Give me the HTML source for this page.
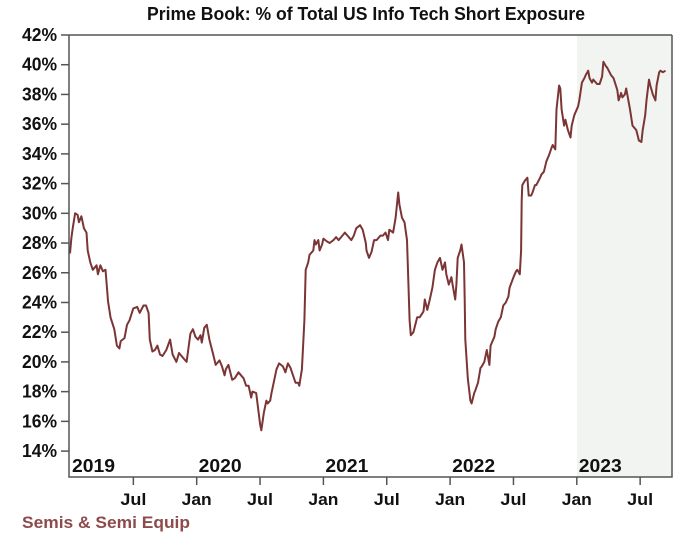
<!DOCTYPE html>
<html><head><meta charset="utf-8"><style>
html,body{margin:0;padding:0;background:#fff;}
svg{display:block;font-family:"Liberation Sans Narrow","Liberation Sans",sans-serif;font-weight:bold;}
</style></head><body>
<svg id="chart" width="680" height="541" viewBox="0 0 680 541" xmlns="http://www.w3.org/2000/svg">
<rect x="0" y="0" width="680" height="541" fill="#fff"/>
<rect x="577" y="35" width="95" height="442" fill="#f2f4f1"/>
<text x="366" y="20" text-anchor="middle" font-size="18" textLength="438" lengthAdjust="spacingAndGlyphs" fill="#111">Prime Book: % of Total US Info Tech Short Exposure</text>
<g id="yaxis"></g>
<g id="xaxis"></g>
<polyline id="series" fill="none" stroke="#7b3535" stroke-width="2" stroke-linejoin="round"/>
<path d="M69,35 H672 M69,35 V477 H672 V35" fill="none" stroke="#555" stroke-width="1.5"/>
<text x="22" y="528" font-size="17" textLength="168" lengthAdjust="spacingAndGlyphs" fill="#8d4b4b">Semis &amp; Semi Equip</text>
</svg>
<script>
const yTicks = [14,16,18,20,22,24,26,28,30,32,34,36,38,40,42];
const yearLabels = ["2019","2020","2021","2022","2023"];
const yearPositions = [2019,2020,2021,2022,2023];
const monthTicks = [2019.5,2020,2020.5,2021,2021.5,2022,2022.5,2023,2023.5];
const monthLabels = ["Jul","Jan","Jul","Jan","Jul","Jan","Jul","Jan","Jul"];
const dates = [2019.00,2019.01,2019.02,2019.04,2019.06,2019.07,2019.09,2019.11,2019.13,2019.14,2019.16,2019.18,2019.21,2019.22,2019.24,2019.26,2019.28,2019.29,2019.30,2019.32,2019.35,2019.37,2019.39,2019.40,2019.43,2019.45,2019.47,2019.50,2019.53,2019.55,2019.58,2019.60,2019.62,2019.63,2019.65,2019.67,2019.69,2019.71,2019.73,2019.76,2019.79,2019.81,2019.84,2019.86,2019.89,2019.92,2019.95,2019.97,2019.99,2020.01,2020.03,2020.04,2020.06,2020.08,2020.10,2020.13,2020.15,2020.18,2020.20,2020.22,2020.23,2020.25,2020.28,2020.30,2020.33,2020.35,2020.37,2020.39,2020.41,2020.43,2020.44,2020.47,2020.48,2020.50,2020.51,2020.53,2020.55,2020.56,2020.58,2020.59,2020.63,2020.65,2020.68,2020.70,2020.72,2020.74,2020.76,2020.78,2020.80,2020.81,2020.83,2020.85,2020.86,2020.88,2020.89,2020.92,2020.93,2020.94,2020.96,2020.97,2020.99,2021.00,2021.03,2021.05,2021.08,2021.10,2021.12,2021.15,2021.17,2021.19,2021.22,2021.24,2021.26,2021.29,2021.31,2021.335,2021.34,2021.36,2021.38,2021.40,2021.42,2021.45,2021.47,2021.49,2021.51,2021.52,2021.55,2021.57,2021.59,2021.60,2021.62,2021.64,2021.66,2021.67,2021.68,2021.69,2021.71,2021.74,2021.76,2021.79,2021.80,2021.82,2021.84,2021.86,2021.88,2021.90,2021.92,2021.94,2021.96,2021.97,2021.99,2022.01,2022.02,2022.04,2022.05,2022.06,2022.08,2022.09,2022.11,2022.115,2022.12,2022.14,2022.16,2022.17,2022.19,2022.20,2022.22,2022.24,2022.25,2022.27,2022.29,2022.31,2022.32,2022.35,2022.36,2022.38,2022.40,2022.42,2022.44,2022.46,2022.47,2022.50,2022.52,2022.53,2022.55,2022.56,2022.565,2022.57,2022.59,2022.61,2022.62,2022.64,2022.65,2022.67,2022.68,2022.71,2022.72,2022.74,2022.76,2022.78,2022.80,2022.81,2022.83,2022.84,2022.86,2022.87,2022.88,2022.90,2022.91,2022.93,2022.95,2022.96,2022.98,2023.01,2023.02,2023.04,2023.06,2023.07,2023.09,2023.10,2023.12,2023.13,2023.16,2023.18,2023.20,2023.21,2023.23,2023.24,2023.27,2023.29,2023.32,2023.33,2023.35,2023.36,2023.38,2023.39,2023.42,2023.44,2023.47,2023.49,2023.51,2023.52,2023.54,2023.55,2023.57,2023.58,2023.60,2023.62,2023.63,2023.65,2023.66,2023.68,2023.70];
const values = [27.3,28.3,28.9,30.0,29.9,29.4,29.8,29.0,28.7,27.5,26.7,26.2,26.5,25.9,26.5,26.1,26.2,25.2,24.1,23.0,22.2,21.1,20.9,21.4,21.6,22.5,22.8,23.6,23.7,23.3,23.8,23.8,23.3,21.5,20.7,20.8,21.1,20.5,20.4,20.8,21.5,20.5,20.0,20.6,20.3,20.0,21.9,22.2,21.7,21.5,21.8,21.3,22.3,22.5,21.5,20.5,19.8,20.1,19.7,19.1,19.5,19.8,18.8,18.9,19.3,19.1,18.9,18.4,18.4,17.6,18.0,17.9,17.2,15.8,15.4,16.6,17.4,17.2,17.4,17.9,19.5,19.9,19.7,19.3,19.9,19.6,19.1,18.6,18.6,18.4,19.5,22.8,26.2,26.7,27.2,27.5,28.2,27.9,28.2,27.5,27.9,28.3,28.1,28.0,28.2,28.4,28.2,28.5,28.7,28.5,28.2,28.5,29.0,29.2,28.9,28.0,27.5,27.0,27.4,28.2,28.2,28.5,28.5,28.7,28.2,28.9,28.7,29.7,31.4,30.6,29.7,29.4,28.2,25.5,22.8,21.8,22.0,23.0,23.0,23.4,24.2,23.5,24.2,25.0,26.2,26.7,27.0,26.2,26.7,25.9,25.2,25.7,25.2,24.2,25.2,27.0,27.5,27.9,26.7,24.2,21.5,18.9,17.4,17.2,17.9,18.1,18.6,19.6,19.7,20.0,20.8,19.8,21.1,21.7,22.2,22.7,23.0,23.8,24.0,24.4,25.0,25.7,26.1,26.2,25.9,27.5,30.9,31.9,32.2,32.4,31.2,31.2,31.4,31.9,31.9,32.4,32.6,32.8,33.5,33.9,34.4,34.6,34.3,37.0,38.6,38.4,37.0,35.9,36.3,35.6,35.1,35.9,36.6,37.2,37.6,38.8,39.1,39.3,39.6,39.1,38.8,39.0,38.7,38.7,39.2,40.2,39.9,39.8,39.3,39.1,38.3,37.6,38.1,37.8,38.0,38.4,37.0,35.9,35.6,34.9,34.8,35.6,36.6,37.6,39.0,38.6,38.0,37.6,38.6,39.5,39.6,39.5,39.6];

const X0 = 70, PXY = 126.7, Y0 = 35, PXV = 14.86;
function xScale(t){ return X0 + (t - 2019) * PXY; }
function yScale(v){ return Y0 + (42 - v) * PXV; }
const NS = "http://www.w3.org/2000/svg";
const yax = document.getElementById('yaxis');
const xax = document.getElementById('xaxis');
yTicks.forEach(v => {
  const y = yScale(v);
  const l = document.createElementNS(NS,'line');
  l.setAttribute('x1',61); l.setAttribute('x2',69); l.setAttribute('y1',y); l.setAttribute('y2',y);
  l.setAttribute('stroke','#555'); l.setAttribute('stroke-width','1.5');
  
  
  yax.appendChild(l);
  const t = document.createElementNS(NS,'text');
  t.setAttribute('x',57); t.setAttribute('y',y+6); t.setAttribute('text-anchor','end');
  t.setAttribute('font-size','18'); t.setAttribute('fill','#111');
  t.setAttribute('textLength','35'); t.setAttribute('lengthAdjust','spacingAndGlyphs');
  t.textContent = v + '%';
  
  
  yax.appendChild(t);
});
yearLabels.forEach((s,i) => {
  const t = document.createElementNS(NS,'text');
  t.setAttribute('x', xScale(yearPositions[i]) + 2); t.setAttribute('y', 472);
  t.setAttribute('font-size','18'); t.setAttribute('fill','#111');
  t.setAttribute('textLength','43'); t.setAttribute('lengthAdjust','spacingAndGlyphs');
  t.textContent = s;
  
  
  xax.appendChild(t);
});
monthTicks.forEach((m,i) => {
  const x = xScale(m);
  const l = document.createElementNS(NS,'line');
  l.setAttribute('x1',x); l.setAttribute('x2',x); l.setAttribute('y1',477); l.setAttribute('y2',485);
  l.setAttribute('stroke','#555'); l.setAttribute('stroke-width','1.5');
  
  
  xax.appendChild(l);
  const t = document.createElementNS(NS,'text');
  t.setAttribute('x',x); t.setAttribute('y',505); t.setAttribute('text-anchor','middle');
  t.setAttribute('font-size','17'); t.setAttribute('fill','#111');
  t.setAttribute('textLength', monthLabels[i] === 'Jul' ? '26' : '30'); t.setAttribute('lengthAdjust','spacingAndGlyphs');
  t.textContent = monthLabels[i];
  
  
  xax.appendChild(t);
});
document.getElementById('series').setAttribute('points',
  dates.map((d,i) => xScale(d).toFixed(1) + ',' + yScale(values[i]).toFixed(1)).join(' '));
</script>
</body></html>
